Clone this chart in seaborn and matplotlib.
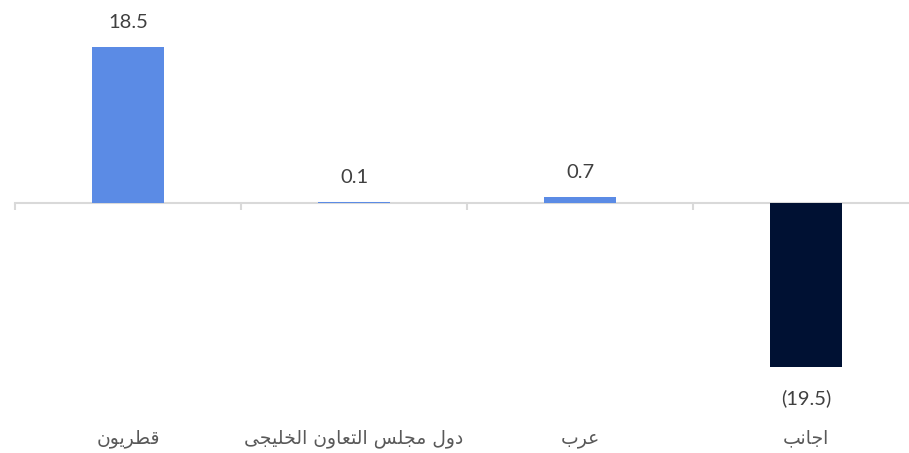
import matplotlib
matplotlib.use("Agg")
import matplotlib.pyplot as plt
import matplotlib.transforms as mtransforms
import seaborn as sns
import pandas as pd

categories = ["قطريون", "دول مجلس التعاون الخليجى", "عرب", "اجانب"]
values = [18.5, 0.1, 0.7, -19.5]
value_labels = ["18.5", "0.1", "0.7", "(19.5)"]

POS_COLOR = "#5B8BE5"
NEG_COLOR = "#001133"

# minimal Arabic shaping (matplotlib has no bidi/shaping)
FORMS = {
    "ا": ("\uFE8D", "\uFE8E", None, None),
    "ب": ("\uFE8F", "\uFE90", "\uFE91", "\uFE92"),
    "ت": ("\uFE95", "\uFE96", "\uFE97", "\uFE98"),
    "ج": ("\uFE9D", "\uFE9E", "\uFE9F", "\uFEA0"),
    "خ": ("\uFEA5", "\uFEA6", "\uFEA7", "\uFEA8"),
    "د": ("\uFEA9", "\uFEAA", None, None),
    "ر": ("\uFEAD", "\uFEAE", None, None),
    "س": ("\uFEB1", "\uFEB2", "\uFEB3", "\uFEB4"),
    "ط": ("\uFEC1", "\uFEC2", "\uFEC3", "\uFEC4"),
    "ع": ("\uFEC9", "\uFECA", "\uFECB", "\uFECC"),
    "ق": ("\uFED5", "\uFED6", "\uFED7", "\uFED8"),
    "ل": ("\uFEDD", "\uFEDE", "\uFEDF", "\uFEE0"),
    "م": ("\uFEE1", "\uFEE2", "\uFEE3", "\uFEE4"),
    "ن": ("\uFEE5", "\uFEE6", "\uFEE7", "\uFEE8"),
    "و": ("\uFEED", "\uFEEE", None, None),
    "ي": ("\uFEF1", "\uFEF2", "\uFEF3", "\uFEF4"),
    "ى": ("\uFEEF", "\uFEF0", None, None),
}


def joins_left(ch):
    return ch in FORMS and FORMS[ch][2] is not None


def shape_word(word):
    out = []
    n = len(word)
    for i, ch in enumerate(word):
        if ch not in FORMS:
            out.append(ch)
            continue
        prev_joins = i > 0 and joins_left(word[i - 1])
        next_exists = i < n - 1 and word[i + 1] in FORMS
        can_left = joins_left(ch) and next_exists
        iso, fin, ini, med = FORMS[ch]
        if prev_joins and can_left:
            out.append(med)
        elif prev_joins:
            out.append(fin)
        elif can_left:
            out.append(ini)
        else:
            out.append(iso)
    return "".join(out)


def shape(text):
    words = [shape_word(w) for w in text.split(" ")]
    return " ".join(words)[::-1]


df = pd.DataFrame({"cat": categories, "val": values})
colors = [POS_COLOR if v >= 0 else NEG_COLOR for v in values]

sns.set_theme(style="white")
plt.rcParams["font.family"] = ["DejaVu Sans"]

W, H = 909, 453
fig = plt.figure(figsize=(W / 100, H / 100), dpi=100)
ax = fig.add_axes([15 / W, 0, 904 / W, 1])

sns.barplot(data=df, x="cat", y="val", hue="cat", palette=colors,
            legend=False, width=0.32, saturation=1, ax=ax, zorder=3,
            linewidth=0)

px_per_unit = 156 / 18.5
ax.set_ylim(-(H - 203) / px_per_unit, 203 / px_per_unit)
ax.set_xlim(-0.5, 3.5)

for s in ["top", "right", "left"]:
    ax.spines[s].set_visible(False)
ax.spines["bottom"].set_position(("data", 0))
ax.spines["bottom"].set_color("#D9D9D9")
ax.spines["bottom"].set_linewidth(1.5)
ax.spines["bottom"].set_zorder(2)
ax.set_xticks([-0.5, 0.5, 1.5, 2.5, 3.5])
ax.set_xticklabels([])
ax.tick_params(axis="x", direction="out", length=5, width=1.5, color="#D9D9D9", bottom=True)
ax.set_yticks([])
ax.set_xlabel("")
ax.set_ylabel("")

for i, (v, lab) in enumerate(zip(values, value_labels)):
    off = 18 if v >= 0 else -22
    ax.annotate(lab, (i, v), xytext=(0, off), textcoords="offset points",
                ha="center", va="center", fontsize=14.5, color="#404040",
                family=["Lato", "DejaVu Sans"])

trans = mtransforms.blended_transform_factory(ax.transData, ax.transAxes)
for i, c in enumerate(categories):
    ax.text(i, 1 - 438 / H, shape(c), transform=trans, ha="center", va="center",
            fontsize=13.5, color="#595959")

fig.savefig("out.png", dpi=100)
